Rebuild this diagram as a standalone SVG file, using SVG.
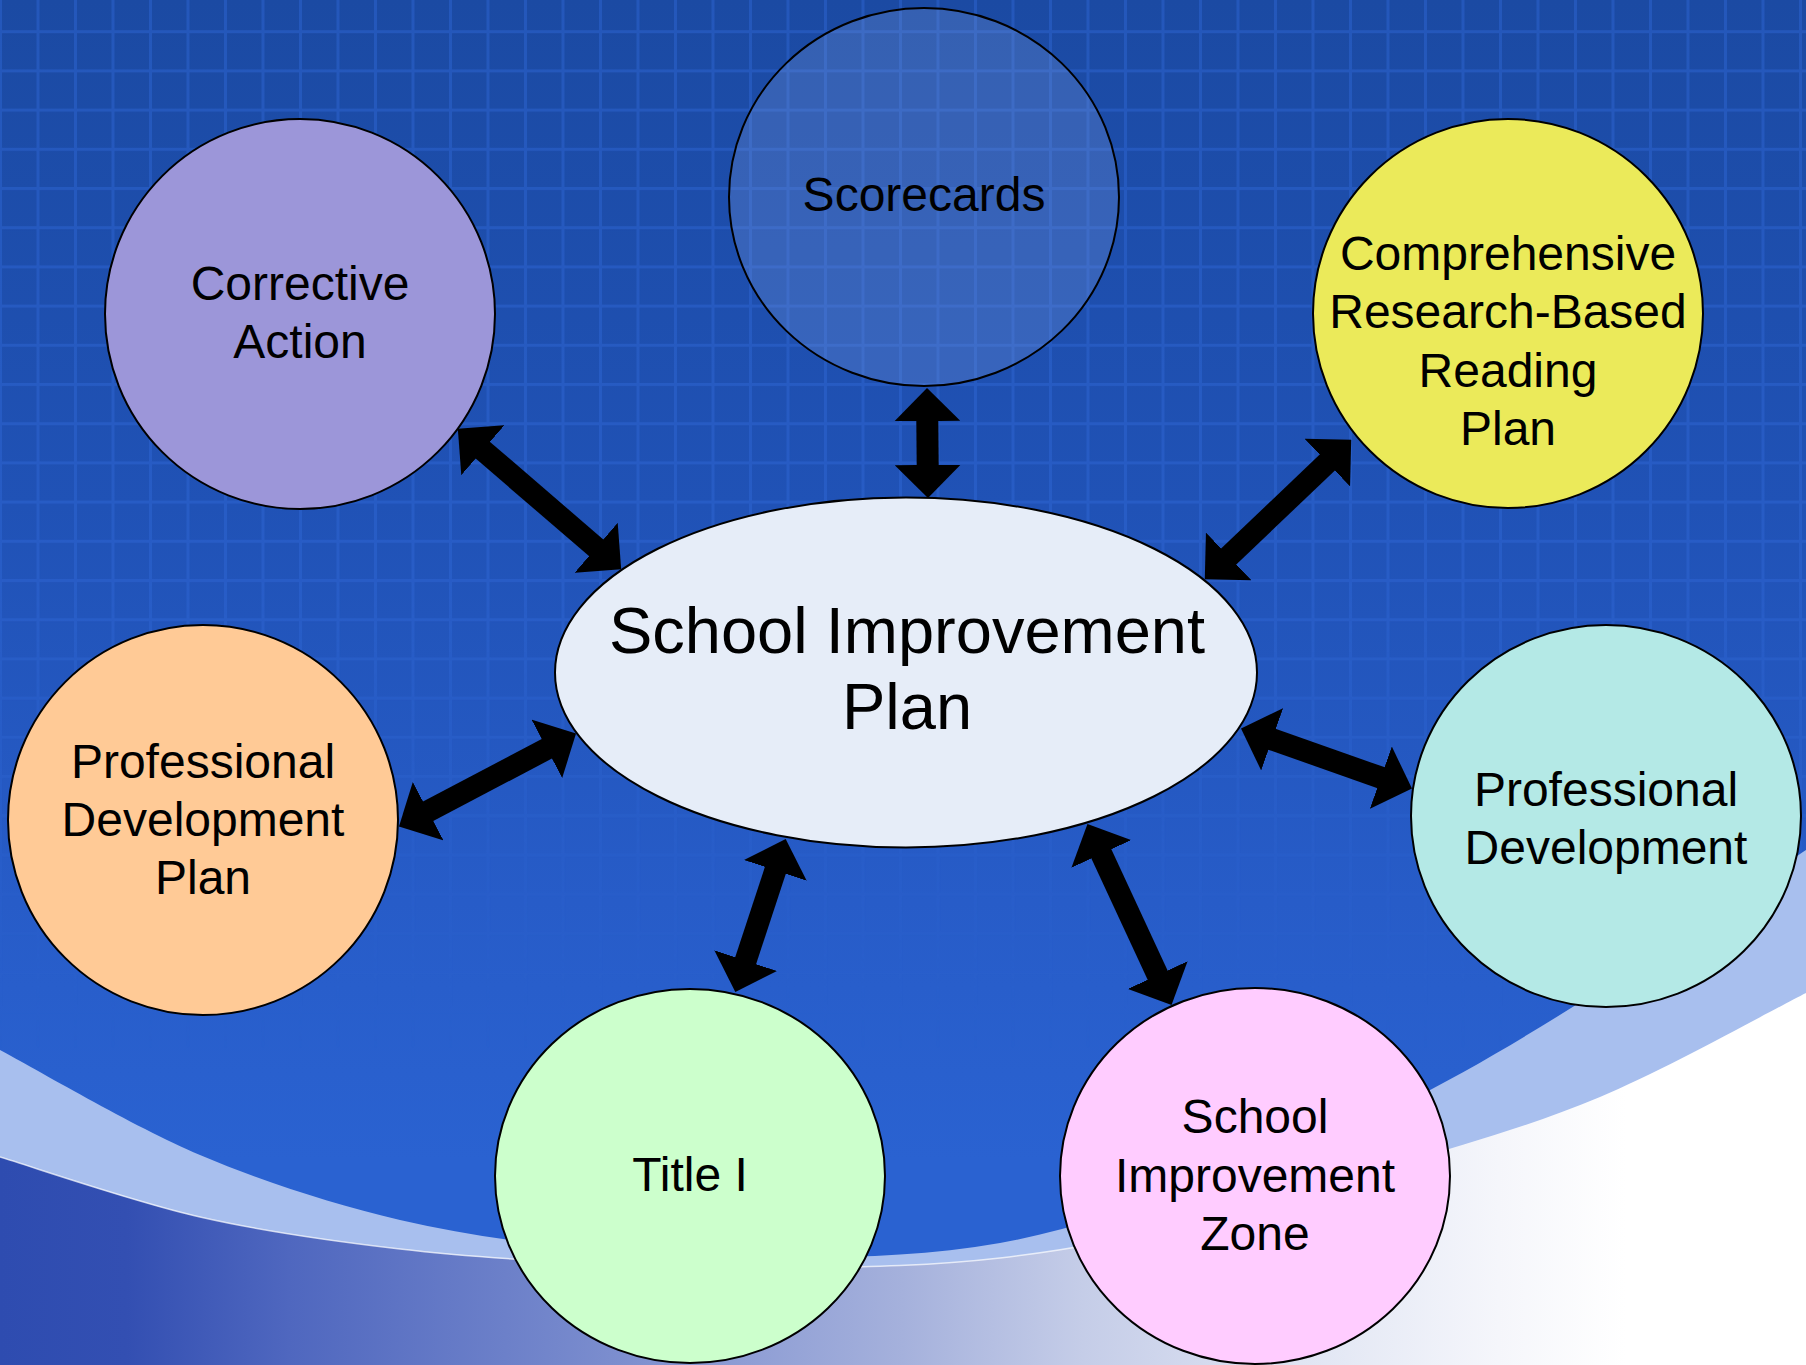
<svg xmlns="http://www.w3.org/2000/svg" width="1806" height="1365" viewBox="0 0 1806 1365">
  <defs>
    <linearGradient id="skyFill" x1="0" y1="0" x2="0" y2="1365" gradientUnits="userSpaceOnUse">
      <stop offset="0" stop-color="#1b4aa3"/>
      <stop offset="0.37" stop-color="#2052b6"/>
      <stop offset="0.66" stop-color="#275cc8"/>
      <stop offset="0.85" stop-color="#2a62d1"/>
      <stop offset="1" stop-color="#2a62d1"/>
    </linearGradient>
    <linearGradient id="floorFill" x1="0" y1="0" x2="1806" y2="0" gradientUnits="userSpaceOnUse">
      <stop offset="0" stop-color="#2e4cb0"/>
      <stop offset="0.07" stop-color="#334fb2"/>
      <stop offset="0.16" stop-color="#4f67bf"/>
      <stop offset="0.28" stop-color="#6c80c9"/>
      <stop offset="0.5" stop-color="#a5b1dc"/>
      <stop offset="0.6" stop-color="#c5cde8"/>
      <stop offset="0.72" stop-color="#e0e5f3"/>
      <stop offset="0.83" stop-color="#f5f6fb"/>
      <stop offset="0.9" stop-color="#ffffff"/>
    </linearGradient>
    <linearGradient id="gridFade" x1="0" y1="0" x2="0" y2="1365" gradientUnits="userSpaceOnUse">
      <stop offset="0" stop-color="#fff"/>
      <stop offset="0.42" stop-color="#fff"/>
      <stop offset="0.62" stop-color="#fff" stop-opacity="0.45"/>
      <stop offset="0.77" stop-color="#fff" stop-opacity="0"/>
    </linearGradient>
    <mask id="gridMask" maskUnits="userSpaceOnUse" x="0" y="0" width="1806" height="1365">
      <rect width="1806" height="1365" fill="url(#gridFade)"/>
    </mask>
    <pattern id="grid" patternUnits="userSpaceOnUse" x="36.5" y="30.2" width="37.5" height="39.2">
      <rect x="0" y="0" width="3" height="39.2" fill="#3068d8" fill-opacity="0.45"/>
      <rect x="3" y="0" width="34.5" height="3" fill="#3068d8" fill-opacity="0.45"/>
    </pattern>
    <marker id="head" viewBox="0 0 1.5 3" refX="0.05" refY="1.5" markerWidth="1.5" markerHeight="3" markerUnits="strokeWidth" orient="auto-start-reverse">
      <path d="M0,0 L1.5,1.5 L0,3 Z" fill="#000"/>
    </marker>
    <style>
      .node { stroke: #000; stroke-width: 2; }
      .label { font-family: "Liberation Sans", Arial, sans-serif; font-size: 48px; fill: #000; text-anchor: middle; }
      .title { font-size: 65px; }
      .link { stroke: #000; stroke-width: 22; fill: none; marker-start: url(#head); marker-end: url(#head); }
    </style>
  </defs>

  <!-- backdrop: blue field with a fading grid and a swept lower edge -->
  <g id="backdrop">
    <rect width="1806" height="1365" fill="url(#skyFill)"/>
    <rect width="1806" height="1365" fill="url(#grid)" mask="url(#gridMask)"/>
    <path fill="#a8bfee" d="M0,1050 C33.3,1067.5 133.3,1126.7 200,1155 C266.7,1183.3 333.3,1204.2 400,1220 C466.7,1235.8 533.3,1243.7 600,1250 C666.7,1256.3 733.3,1259.2 800,1258 C866.7,1256.8 933.3,1255.2 1000,1243 C1066.7,1230.8 1133.3,1208 1200,1185 C1266.7,1162 1333.3,1137.5 1400,1105 C1466.7,1072.5 1532.3,1032.5 1600,990 C1667.7,947.5 1771.7,873.3 1806,850 L1806,1365 L0,1365 Z"/>
    <path fill="url(#floorFill)" d="M0,1157 C33.3,1167 133.3,1201.7 200,1217 C266.7,1232.3 333.3,1241.2 400,1249 C466.7,1256.8 533.3,1260.8 600,1264 C666.7,1267.2 733.3,1269 800,1268 C866.7,1267 933.3,1265.7 1000,1258 C1066.7,1250.3 1133.3,1237.7 1200,1222 C1266.7,1206.3 1333.3,1184.8 1400,1164 C1466.7,1143.2 1532.3,1125.5 1600,1097 C1667.7,1068.5 1771.7,1010.3 1806,993 L1806,1365 L0,1365 Z"/>
    <path fill="none" stroke="#ffffff" stroke-opacity="0.7" stroke-width="1.5" d="M0,1157 C33.3,1167 133.3,1201.7 200,1217 C266.7,1232.3 333.3,1241.2 400,1249 C466.7,1256.8 533.3,1260.8 600,1264 C666.7,1267.2 733.3,1269 800,1268 C866.7,1267 933.3,1265.7 1000,1258 C1066.7,1250.3 1133.3,1237.7 1200,1222"/>
  </g>

  <!-- nodes -->
  <g id="node-corrective-action">
    <ellipse class="node" cx="300" cy="314" rx="195" ry="195" fill="#9c96d9"/>
    <text class="label" x="300" y="300">Corrective</text>
    <text class="label" x="300" y="357.5">Action</text>
  </g>
  <g id="node-scorecards">
    <ellipse class="node" cx="924" cy="197" rx="195" ry="189" fill="#8aa8e2" fill-opacity="0.24"/>
    <text class="label" x="924" y="211">Scorecards</text>
  </g>
  <g id="node-reading-plan">
    <ellipse class="node" cx="1508" cy="313.5" rx="195" ry="194.5" fill="#ebea5a"/>
    <text class="label" x="1508" y="270">Comprehensive</text>
    <text class="label" x="1508" y="328">Research-Based</text>
    <text class="label" x="1508" y="386.5">Reading</text>
    <text class="label" x="1508" y="445">Plan</text>
  </g>
  <g id="node-pd-plan">
    <ellipse class="node" cx="203" cy="820" rx="195" ry="195" fill="#ffca96"/>
    <text class="label" x="203" y="777.5">Professional</text>
    <text class="label" x="203" y="836">Development</text>
    <text class="label" x="203" y="894">Plan</text>
  </g>
  <g id="node-professional-development">
    <ellipse class="node" cx="1606" cy="816" rx="195" ry="191" fill="#b4e9e6"/>
    <text class="label" x="1606" y="806">Professional</text>
    <text class="label" x="1606" y="864">Development</text>
  </g>
  <g id="node-title-one">
    <ellipse class="node" cx="690" cy="1176" rx="195" ry="187" fill="#ccffcc"/>
    <text class="label" x="690" y="1191">Title I</text>
  </g>
  <g id="node-improvement-zone">
    <ellipse class="node" cx="1255" cy="1176" rx="195" ry="188" fill="#ffccff"/>
    <text class="label" x="1255" y="1133">School</text>
    <text class="label" x="1255" y="1192">Improvement</text>
    <text class="label" x="1255" y="1250">Zone</text>
  </g>
  <g id="node-school-improvement-plan">
    <ellipse class="node" cx="906" cy="672.5" rx="351" ry="175" fill="#e6edf8"/>
    <text class="label title" x="907" y="653">School Improvement</text>
    <text class="label title" x="907" y="729">Plan</text>
  </g>

  <!-- two-way connectors between the hub and each node -->
  <g id="connectors">
    <line class="link" x1="482" y1="449.5" x2="597" y2="548.5"/>
    <line class="link" x1="927.3" y1="420" x2="927.7" y2="466"/>
    <line class="link" x1="1328.1" y1="461.8" x2="1227.9" y2="557.2"/>
    <line class="link" x1="1271.1" y1="739" x2="1381.9" y2="778"/>
    <line class="link" x1="1100.9" y1="852.9" x2="1158.1" y2="976.1"/>
    <line class="link" x1="775.7" y1="869.3" x2="745.3" y2="961.7"/>
    <line class="link" x1="427.2" y1="811.7" x2="547.8" y2="748.3"/>
  </g>
</svg>
